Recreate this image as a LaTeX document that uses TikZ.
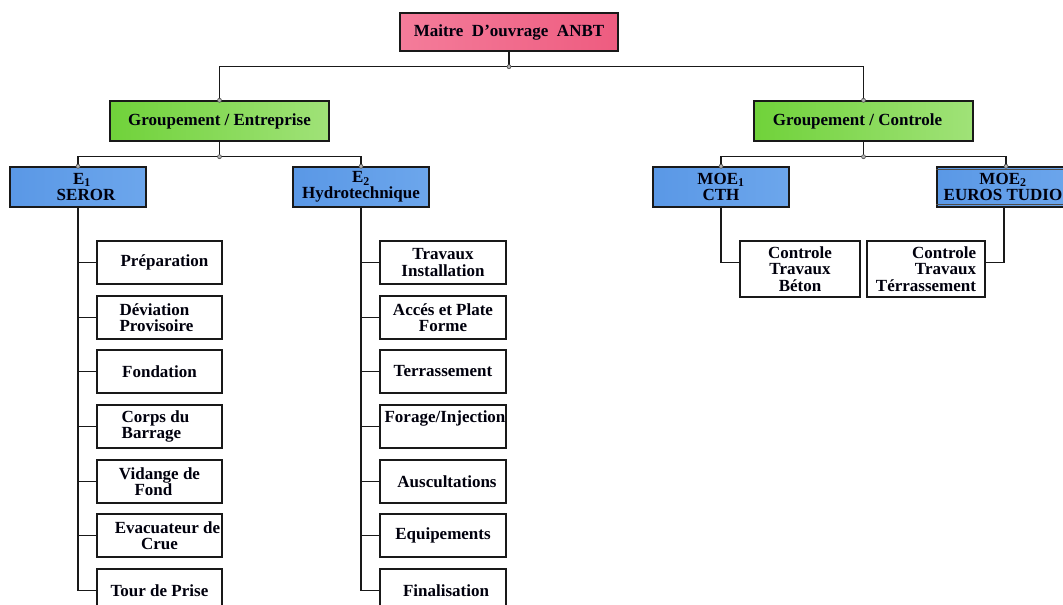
\documentclass[tikz,border=0pt]{standalone}
\usepackage{fontspec}
\setmainfont{Liberation Serif}
\usetikzlibrary{calc}
\begin{document}
\begin{tikzpicture}[x=1pt,y=-1pt,
  every node/.style={font=\fontsize{17}{16.5}\selectfont\bfseries, text=black!95!blue},
  box/.style={draw=black!90, line width=1.4pt, rectangle, inner sep=0pt, align=center},
  pinkbox/.style={box, left color=pinkL, right color=pinkR},
  greenbox/.style={box, left color=greenL, right color=greenR},
  bluebox/.style={box, left color=blueL, right color=blueR},
  leaf/.style={box, fill=white, minimum width=125pt, minimum height=43pt},
  conn/.style={draw=black!90, line width=1.4pt},
  jdot/.style={fill=gray!60, draw=black!70, line width=0.6pt}
]
\definecolor{pinkL}{RGB}{244,124,154}
\definecolor{pinkR}{RGB}{238,92,128}
\definecolor{greenL}{RGB}{112,210,58}
\definecolor{greenR}{RGB}{160,226,120}
\definecolor{blueL}{RGB}{90,152,230}
\definecolor{blueR}{RGB}{108,166,236}
\useasboundingbox (0,0) rectangle (1063,605);
\clip (0,0) rectangle (1063,605);
\fill[white] (0,0) rectangle (1063,605);

% top
\node[pinkbox, minimum width=218pt, minimum height=38pt] (top) at (509,32) {Maitre~~D'ouvrage~~ANBT};
% groups
\node[greenbox, minimum width=219pt, minimum height=40pt] (ge) at (219.5,121) {Groupement / Entreprise};
\node[greenbox, minimum width=219pt, minimum height=40pt] (gc) at (863.5,121) {\hspace*{-12pt}Groupement / Controle};
% second level
\node[bluebox, minimum width=136pt, minimum height=40pt] (e1) at (78,187) {\hspace*{8pt}E\textsubscript{1}\\\hspace*{16pt}SEROR};
\node[bluebox, minimum width=136pt, minimum height=40pt] (e2) at (361,187) {E\textsubscript{2}\\Hydrotechnique};
\node[bluebox, minimum width=136pt, minimum height=40pt] (m1) at (721,187) {MOE\textsubscript{1}\\CTH};
\node[bluebox, minimum width=138pt, minimum height=40pt] (m2) at (1006,187) {\hspace*{-6pt}MOE\textsubscript{2}\\\hspace*{-6pt}EUROS TUDIO};
\draw[black!70, line width=0.5pt] ($(m2.north west)+(0,3)$) -- ($(m2.north east)+(0,3)$);
\draw[black!70, line width=0.5pt] ($(m2.south west)+(0,-3)$) -- ($(m2.south east)+(0,-3)$);

% left leaves
\node[leaf] (l1) at (159.5,262.5) {\hspace*{10pt}Préparation};
\node[leaf, align=left] (l2) at (159.5,317.5) {\hspace*{-6pt}Déviation\\\hspace*{-6pt}Provisoire};
\node[leaf] (l3) at (159.5,371.5) {Fondation};
\node[leaf, align=left] (l4) at (159.5,426.5) {\hspace*{-8pt}Corps du\\\hspace*{-8pt}Barrage};
\node[leaf] (l5) at (159.5,481.5) {Vidange de\\\hspace*{-12pt}Fond};
\node[leaf] (l6) at (159.5,535.5) {\hspace*{16pt}Evacuateur de\\Crue};
\node[leaf] (l7) at (159.5,590.5) {Tour de Prise};

% right leaves
\node[leaf, minimum width=126pt] (r1) at (443,262.5) {Travaux\\Installation};
\node[leaf, minimum width=126pt] (r2) at (443,317.5) {Accés et Plate\\Forme};
\node[leaf, minimum width=126pt] (r3) at (443,371.5) {Terrassement};
\node[leaf, minimum width=126pt] (r4) at (443,426.5) {};
\node (r4t) at (445,418) {Forage/Injection};
\node[leaf, minimum width=126pt] (r5) at (443,481.5) {\hspace*{8pt}Auscultations};
\node[leaf, minimum width=126pt] (r6) at (443,535.5) {Equipements};
\node[leaf, minimum width=126pt] (r7) at (443,590.5) {\hspace*{6pt}Finalisation};

% control leaves
\node[box, fill=white, minimum width=120pt, minimum height=56pt] (c1) at (800,269) {Controle\\Travaux\\Béton};
\node[box, fill=white, minimum width=118pt, minimum height=56pt, align=right] (c2) at (926,269) {\hspace*{10pt}Controle\\Travaux\\Térrassement};

% connectors top
\coordinate (j0) at ($(top.south)+(0,15)$);
\draw[conn] (top.south) -- (j0);
\draw[conn] (j0) -| (ge.north);
\draw[conn] (j0) -| (gc.north);
% group entreprise
\coordinate (j1) at ($(ge.south)+(0,15)$);
\draw[conn] (ge.south) -- (j1);
\draw[conn] (j1) -| (e1.north);
\draw[conn] (j1) -| (e2.north);
% group controle
\coordinate (j2) at ($(gc.south)+(0,15)$);
\draw[conn] (gc.south) -- (j2);
\draw[conn] (j2) -| (m1.north);
\draw[conn] (j2) -| (m2.north);
% E1 tree
\draw[conn] (e1.south) -- (e1.south |- l7.west) -- (l7.west);
\foreach \n in {l1,l2,l3,l4,l5,l6} { \draw[conn] (e1.south |- \n.west) -- (\n.west); }
% E2 tree
\draw[conn] (e2.south) -- (e2.south |- r7.west) -- (r7.west);
\foreach \n in {r1,r2,r3,r4,r5,r6} { \draw[conn] (e2.south |- \n.west) -- (\n.west); }
% MOE
\draw[conn] (m1.south) |- (c1.west |- r1.west);
\coordinate (m2b) at ($(m2.south)+(-2,0)$);
\draw[conn] (m2b) |- (c2.east |- r1.west);

% junction dots
\foreach \p in {j0,j1,j2,ge.north,gc.north,e1.north,e2.north,m1.north,m2.north} {
  \filldraw[jdot] (\p) circle (2pt);
}
\end{tikzpicture}
\end{document}
